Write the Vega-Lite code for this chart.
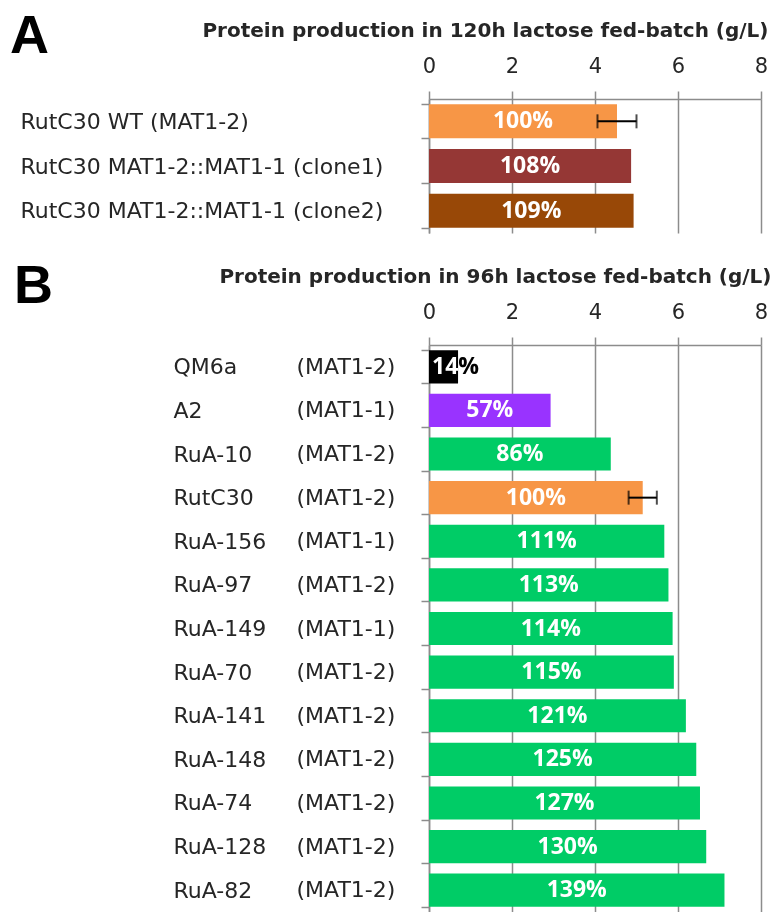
{
  "$schema": "https://vega.github.io/schema/vega-lite/v6.json",
  "background": "white",
  "padding": {"left": 10, "top": 10, "right": 0, "bottom": 0},
  "config": {"view": {"stroke": null}, "font": "DejaVu Sans"},
  "bounds": "flush",
  "spacing": 112,
  "resolve": {"scale": {"color": "independent"}},
  "vconcat": [
    {
      "title": {"text": "A", "anchor": "start", "frame": "group", "font": "Liberation Sans", "fontSize": 54, "fontWeight": "bold", "color": "black", "offset": 0, "dx": -419, "dy": 44},
      "width": 332,
      "height": 134,
      "data": {"values": [
        {"label": "RutC30 WT (MAT1-2)", "group": "WT", "value": 4.53, "err": 0.47, "pct": "100%"},
        {"label": "RutC30 MAT1-2::MAT1-1 (clone1)", "group": "clone1", "value": 4.87, "pct": "108%"},
        {"label": "RutC30 MAT1-2::MAT1-1 (clone2)", "group": "clone2", "value": 4.93, "pct": "109%"}
      ]},
      "layer": [
        {
          "mark": {"type": "bar"},
          "encoding": {
            "y": {"field": "label", "type": "nominal", "sort": null,
                  "scale": {"paddingInner": 0.24, "paddingOuter": 0.12},
                  "axis": {"orient": "left", "title": null, "domain": true, "domainColor": "#8c8c8c", "domainWidth": 1.5,
                           "ticks": true, "tickBand": "extent", "tickSize": 8, "tickColor": "#8c8c8c", "tickWidth": 1.5,
                           "labelAlign": "left", "labelPadding": 401, "labelFont": "DejaVu Sans", "labelFontSize": 22,
                           "labelColor": "#262626", "labelLimit": 600, "labelOverlap": false}},
            "x": {"field": "value", "type": "quantitative", "scale": {"domain": [0, 8], "nice": false},
                  "axis": {"orient": "top", "title": "Protein production in 120h lactose fed-batch (g/L)",
                           "titleFont": "DejaVu Sans", "titleFontSize": 20, "titleFontWeight": "bold", "titleColor": "#262626",
                           "titleAlign": "right", "titleX": 339, "titlePadding": 15,
                           "values": [0, 2, 4, 6, 8], "grid": true, "gridColor": "#8c8c8c", "gridWidth": 1.5,
                           "domainColor": "#8c8c8c", "domainWidth": 1.5, "tickColor": "#8c8c8c", "tickWidth": 1.5, "tickSize": 8,
                           "labelFont": "DejaVu Sans", "labelFontSize": 21, "labelPadding": 15, "labelColor": "#262626", "labelFlush": false}},
            "color": {"field": "group", "type": "nominal",
                      "scale": {"domain": ["WT", "clone1", "clone2"], "range": ["#F79646", "#953735", "#984807"]}, "legend": null}
          }
        },
        {
          "transform": [{"filter": "isValid(datum.err)"}],
          "mark": {"type": "errorbar", "color": "black", "thickness": 2, "ticks": {"size": 14}},
          "encoding": {
            "y": {"field": "label", "type": "nominal", "sort": null, "axis": null},
            "x": {"field": "value", "type": "quantitative", "scale": {"domain": [0, 8], "nice": false}, "axis": null},
            "xError": {"field": "err"}
          }
        },
        {
          "mark": {"type": "text", "color": "white", "font": "Open Sans", "fontSize": 23, "fontWeight": "bold"},
          "encoding": {
            "y": {"field": "label", "type": "nominal", "sort": null, "axis": null},
            "x": {"field": "value", "type": "quantitative", "scale": {"domain": [0, 16], "nice": false}, "axis": null},
            "text": {"field": "pct"}
          }
        }
      ],
      "resolve": {"scale": {"x": "independent"}, "axis": {"y": "independent"}}
    },
    {
      "title": {"text": "B", "anchor": "start", "frame": "group", "font": "Liberation Sans", "fontSize": 54, "fontWeight": "bold", "color": "black", "offset": 0, "dx": -415, "dy": 48},
      "width": 332,
      "height": 567,
      "data": {"values": [
        {"label": "QM6a (MAT1-2)", "group": "QM6a", "value": 0.70, "pct": "14%"},
        {"label": "A2 (MAT1-1)", "group": "A2", "value": 2.93, "pct": "57%"},
        {"label": "RuA-10 (MAT1-2)", "group": "RuA", "value": 4.38, "pct": "86%"},
        {"label": "RutC30 (MAT1-2)", "group": "RutC30", "value": 5.15, "err": 0.34, "pct": "100%"},
        {"label": "RuA-156 (MAT1-1)", "group": "RuA", "value": 5.67, "pct": "111%"},
        {"label": "RuA-97 (MAT1-2)", "group": "RuA", "value": 5.77, "pct": "113%"},
        {"label": "RuA-149 (MAT1-1)", "group": "RuA", "value": 5.87, "pct": "114%"},
        {"label": "RuA-70 (MAT1-2)", "group": "RuA", "value": 5.90, "pct": "115%"},
        {"label": "RuA-141 (MAT1-2)", "group": "RuA", "value": 6.19, "pct": "121%"},
        {"label": "RuA-148 (MAT1-2)", "group": "RuA", "value": 6.44, "pct": "125%"},
        {"label": "RuA-74 (MAT1-2)", "group": "RuA", "value": 6.53, "pct": "127%"},
        {"label": "RuA-128 (MAT1-2)", "group": "RuA", "value": 6.68, "pct": "130%"},
        {"label": "RuA-82 (MAT1-2)", "group": "RuA", "value": 7.12, "pct": "139%"}
      ]},
      "layer": [
        {
          "mark": {"type": "bar"},
          "encoding": {
            "y": {"field": "label", "type": "nominal", "sort": null,
                  "scale": {"paddingInner": 0.24, "paddingOuter": 0.12},
                  "axis": {"orient": "left", "title": null, "domain": true, "domainColor": "#8c8c8c", "domainWidth": 1.5,
                           "ticks": true, "tickBand": "extent", "tickSize": 8, "tickColor": "#8c8c8c", "tickWidth": 1.5,
                           "labelAlign": "left", "labelPadding": 248, "labelFont": "DejaVu Sans", "labelFontSize": 22,
                           "labelColor": "#262626", "labelLimit": 600, "labelOverlap": false,
                           "labelExpr": "split(datum.label, ' ')[0]"}},
            "x": {"field": "value", "type": "quantitative", "scale": {"domain": [0, 8], "nice": false},
                  "axis": {"orient": "top", "title": "Protein production in 96h lactose fed-batch (g/L)",
                           "titleFont": "DejaVu Sans", "titleFontSize": 20, "titleFontWeight": "bold", "titleColor": "#262626",
                           "titleAlign": "right", "titleX": 342, "titlePadding": 15,
                           "values": [0, 2, 4, 6, 8], "grid": true, "gridColor": "#8c8c8c", "gridWidth": 1.5,
                           "domainColor": "#8c8c8c", "domainWidth": 1.5, "tickColor": "#8c8c8c", "tickWidth": 1.5, "tickSize": 8,
                           "labelFont": "DejaVu Sans", "labelFontSize": 21, "labelPadding": 15, "labelColor": "#262626", "labelFlush": false}},
            "color": {"field": "group", "type": "nominal",
                      "scale": {"domain": ["QM6a", "A2", "RuA", "RutC30"], "range": ["#000000", "#9933FF", "#00CC66", "#F79646"]}, "legend": null}
          }
        },
        {
          "transform": [{"filter": "isValid(datum.err)"}],
          "mark": {"type": "errorbar", "color": "black", "thickness": 2, "ticks": {"size": 14}},
          "encoding": {
            "y": {"field": "label", "type": "nominal", "sort": null, "axis": null},
            "x": {"field": "value", "type": "quantitative", "scale": {"domain": [0, 8], "nice": false}, "axis": null},
            "xError": {"field": "err"}
          }
        },
        {
          "transform": [{"filter": "datum.group != 'QM6a'"}],
          "mark": {"type": "text", "color": "white", "font": "Open Sans", "fontSize": 23, "fontWeight": "bold"},
          "encoding": {
            "y": {"field": "label", "type": "nominal", "sort": null,
                  "axis": {"orient": "left", "title": null, "domain": false, "ticks": false,
                           "labelAlign": "left", "labelPadding": 133, "labelFont": "DejaVu Sans", "labelFontSize": 22,
                           "labelColor": "#262626", "labelLimit": 600, "labelOverlap": false,
                           "labelExpr": "split(datum.label, ' ')[1]"}},
            "x": {"field": "value", "type": "quantitative", "scale": {"domain": [0, 16], "nice": false}, "axis": null},
            "text": {"field": "pct"}
          }
        },
        {
          "transform": [{"filter": "datum.group == 'QM6a'"}],
          "mark": {"type": "text", "color": "white", "font": "Open Sans", "fontSize": 23, "fontWeight": "bold", "align": "left", "dx": 3, "blend": "difference"},
          "encoding": {
            "y": {"field": "label", "type": "nominal", "sort": null, "axis": null},
            "x": {"datum": 0, "type": "quantitative", "scale": {"domain": [0, 8], "nice": false}, "axis": null},
            "text": {"field": "pct"}
          }
        }
      ],
      "resolve": {"scale": {"x": "independent"}, "axis": {"y": "independent"}}
    }
  ]
}
